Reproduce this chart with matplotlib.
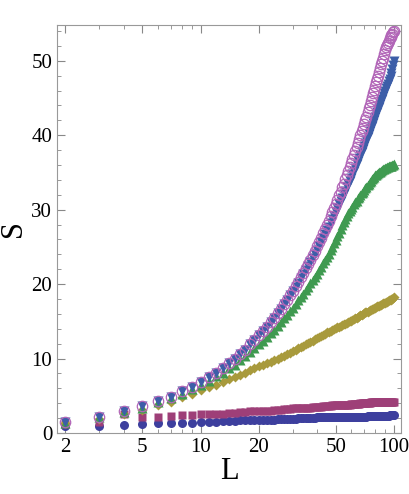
import matplotlib
matplotlib.use("Agg")
import matplotlib.pyplot as plt
from matplotlib.ticker import FixedLocator, NullFormatter

plt.rcParams['font.family'] = ['Liberation Serif', 'DejaVu Serif']

L = list(range(2, 101))

open_circ = [1.5, 2.2, 2.9, 3.6, 4.3, 4.9, 5.6, 6.2, 6.9,
             7.5, 8.1, 8.7, 9.4, 10.0, 10.6, 11.2, 11.9, 12.5, 13.1,
             13.7, 14.3, 14.9, 15.5, 16.1, 16.7, 17.3, 17.9, 18.5, 19.1,
             19.7, 20.3, 20.9, 21.5, 22.1, 22.7, 23.3, 23.9, 24.5, 25.1,
             25.7, 26.2, 26.8, 27.4, 28.0, 28.5, 29.1, 29.7, 30.2, 30.8,
             31.3, 31.9, 32.4, 33.0, 33.5, 34.1, 34.6, 35.2, 35.7, 36.3,
             36.8, 37.3, 37.9, 38.4, 38.9, 39.5, 40.0, 40.5, 41.0, 41.5,
             42.0, 42.5, 43.1, 43.6, 44.1, 44.6, 45.1, 45.6, 46.1, 46.6,
             47.1, 47.5, 48.0, 48.5, 49.0, 49.5, 50.0, 50.4, 50.9, 51.4,
             51.8, 52.1, 52.4, 52.7, 53.0, 53.2, 53.4, 53.6, 53.8, 54.0]

down_tri = [1.5, 2.2, 2.9, 3.6, 4.3, 4.9, 5.6, 6.2, 6.9,
            7.5, 8.1, 8.7, 9.4, 10.0, 10.6, 11.2, 11.9, 12.5, 13.1,
            13.7, 14.3, 14.9, 15.5, 16.1, 16.7, 17.3, 17.9, 18.5, 19.1,
            19.6, 20.2, 20.8, 21.3, 21.9, 22.4, 23.0, 23.5, 24.1, 24.6,
            25.1, 25.7, 26.2, 26.7, 27.2, 27.7, 28.2, 28.7, 29.2, 29.7,
            30.2, 30.7, 31.1, 31.6, 32.1, 32.5, 33.0, 33.4, 33.9, 34.3,
            34.8, 35.2, 35.6, 36.1, 36.5, 36.9, 37.3, 37.7, 38.1, 38.5,
            38.9, 39.3, 39.7, 40.1, 40.5, 40.9, 41.3, 41.6, 42.0, 42.4,
            42.8, 43.1, 43.5, 43.8, 44.2, 44.6, 44.9, 45.2, 45.6, 45.9,
            46.3, 46.6, 46.9, 47.3, 47.6, 48.0, 48.4, 48.9, 49.4, 50.0]

up_tri = [1.4, 2.1, 2.8, 3.4, 4.1, 4.7, 5.3, 5.9, 6.5,
          7.0, 7.6, 8.1, 8.7, 9.2, 9.8, 10.3, 10.9, 11.4, 11.9,
          12.4, 12.9, 13.4, 13.9, 14.4, 14.9, 15.4, 15.9, 16.4, 16.8,
          17.3, 17.8, 18.2, 18.7, 19.2, 19.6, 20.1, 20.5, 21.0, 21.4,
          21.9, 22.3, 22.8, 23.2, 23.7, 24.1, 24.6, 25.0, 25.5, 25.9,
          26.4, 26.9, 27.4, 27.9, 28.4, 28.8, 29.2, 29.5, 29.8, 30.1,
          30.4, 30.7, 31.0, 31.2, 31.5, 31.7, 32.0, 32.2, 32.4, 32.7,
          32.9, 33.1, 33.3, 33.5, 33.7, 33.9, 34.1, 34.3, 34.4, 34.6,
          34.7, 34.8, 34.9, 35.0, 35.1, 35.2, 35.3, 35.4, 35.5, 35.6,
          35.6, 35.7, 35.7, 35.8, 35.8, 35.9, 35.9, 36.0, 36.0, 36.1]

diamonds = [1.3, 1.9, 2.5, 3.1, 3.7, 4.2, 4.8, 5.3, 5.8,
            6.2, 6.5, 6.9, 7.2, 7.5, 7.8, 8.1, 8.4, 8.7, 9.0,
            9.2, 9.4, 9.6, 9.8, 10.0, 10.2, 10.4, 10.6, 10.8, 11.0,
            11.2, 11.4, 11.6, 11.7, 11.9, 12.1, 12.2, 12.4, 12.6, 12.7,
            12.9, 13.0, 13.2, 13.3, 13.5, 13.6, 13.7, 13.9, 14.0, 14.1,
            14.2, 14.3, 14.4, 14.5, 14.6, 14.7, 14.8, 14.9, 15.0, 15.1,
            15.2, 15.3, 15.4, 15.5, 15.6, 15.7, 15.8, 15.9, 16.0, 16.1,
            16.2, 16.2, 16.3, 16.4, 16.5, 16.5, 16.6, 16.7, 16.8, 16.8,
            16.9, 17.0, 17.0, 17.1, 17.2, 17.2, 17.3, 17.4, 17.4, 17.5,
            17.6, 17.6, 17.7, 17.8, 17.8, 17.9, 18.0, 18.0, 18.1, 18.2]

squares = [1.2, 1.5, 2.5, 2.1, 2.2, 2.3, 2.4, 2.4, 2.5,
           2.5, 2.6, 2.6, 2.7, 2.7, 2.8, 2.8, 2.9, 2.9, 2.9,
           3.0, 3.0, 3.0, 3.1, 3.1, 3.1, 3.2, 3.2, 3.2, 3.3,
           3.3, 3.3, 3.3, 3.4, 3.4, 3.4, 3.4, 3.5, 3.5, 3.5,
           3.5, 3.5, 3.6, 3.6, 3.6, 3.6, 3.6, 3.7, 3.7, 3.7,
           3.7, 3.7, 3.7, 3.8, 3.8, 3.8, 3.8, 3.8, 3.8, 3.9,
           3.9, 3.9, 3.9, 3.9, 3.9, 3.9, 4.0, 4.0, 4.0, 4.0,
           4.0, 4.0, 4.0, 4.0, 4.0, 4.1, 4.1, 4.1, 4.1, 4.1,
           4.1, 4.1, 4.1, 4.1, 4.1, 4.1, 4.1, 4.1, 4.1, 4.1,
           4.1, 4.1, 4.1, 4.2, 4.2, 4.2, 4.2, 4.2, 4.2, 4.2]

circles = [0.9, 1.0, 1.1, 1.2, 1.3, 1.3, 1.4, 1.4, 1.5,
           1.5, 1.5, 1.6, 1.6, 1.6, 1.7, 1.7, 1.7, 1.7, 1.8,
           1.8, 1.8, 1.8, 1.8, 1.9, 1.9, 1.9, 1.9, 1.9, 1.9,
           1.9, 2.0, 2.0, 2.0, 2.0, 2.0, 2.0, 2.0, 2.0, 2.1,
           2.1, 2.1, 2.1, 2.1, 2.1, 2.1, 2.1, 2.1, 2.1, 2.1,
           2.1, 2.1, 2.1, 2.1, 2.2, 2.2, 2.2, 2.2, 2.2, 2.2,
           2.2, 2.2, 2.2, 2.2, 2.2, 2.2, 2.2, 2.2, 2.2, 2.2,
           2.2, 2.2, 2.3, 2.3, 2.3, 2.3, 2.3, 2.3, 2.3, 2.3,
           2.3, 2.3, 2.3, 2.3, 2.3, 2.3, 2.3, 2.3, 2.3, 2.3,
           2.3, 2.3, 2.3, 2.3, 2.4, 2.4, 2.4, 2.4, 2.4, 2.4]

fig = plt.figure(figsize=(4.09, 4.94), dpi=100)
ax = fig.add_axes([57 / 409, 61 / 494, 344 / 409, 408 / 494])

ax.plot(L, circles, 'o', color='#3d3f9e', ms=6.5, mec='none')
ax.plot(L, squares, 's', color='#9e3f78', ms=6, mec='none')
ax.plot(L, diamonds, 'D', color='#a89a3c', ms=5, mec='none')
ax.plot(L, up_tri, '^', color='#3f9a50', ms=6.5, mec='none')
ax.plot(L, down_tri, 'v', color='#3d5ea8', ms=6.5, mec='none')
ax.plot(L, open_circ, 'o', mfc='none', mec='#b266b8', ms=7.5, mew=0.9)

ax.set_xscale('log')
ax.set_xlim(1.81, 108.7)
ax.set_ylim(0, 54.8)

ax.xaxis.set_major_locator(FixedLocator([2, 5, 10, 20, 50, 100]))
ax.set_xticklabels(['2', '5', '10', '20', '50', '100'])
ax.xaxis.set_minor_locator(FixedLocator([3, 4, 6, 7, 8, 9, 30, 40, 60, 70, 80, 90]))
ax.xaxis.set_minor_formatter(NullFormatter())
ax.set_yticks([0, 10, 20, 30, 40, 50])
ax.yaxis.set_minor_locator(FixedLocator([v for v in range(0, 55, 2) if v % 10]))

ax.tick_params(which='both', direction='in', top=True, right=True, colors='#888888',
               labelcolor='black', labelsize=15)
ax.tick_params(which='major', length=6)
ax.tick_params(which='minor', length=3)
for s in ax.spines.values():
    s.set_color('#999999')

ax.set_xlabel('L', fontsize=22, labelpad=0)
ax.set_ylabel('S', fontsize=22, labelpad=2)

fig.savefig('out.png', dpi=100)
